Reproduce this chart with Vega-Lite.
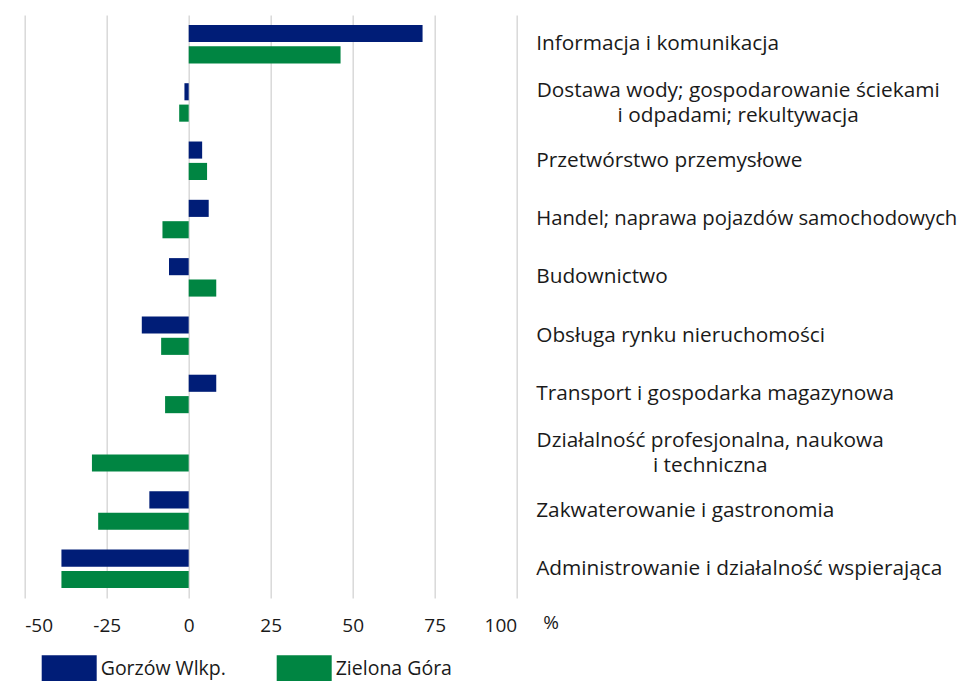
{
  "$schema": "https://vega.github.io/schema/vega-lite/v6.json",
  "autosize": {"type": "none"},
  "padding": {"left": 24.7, "top": 15, "right": 449.3, "bottom": 83},
  "width": 492,
  "height": 583,
  "config": {
    "view": {"stroke": null},
    "font": "Open Sans",
    "axis": {"labelColor": "#1a1a1a", "titleColor": "#1a1a1a"}
  },
  "data": {
    "values": [
      {"category": "Informacja i komunikacja", "city": "Gorzów Wlkp.", "value": 71.3},
      {"category": "Informacja i komunikacja", "city": "Zielona Góra", "value": 46.3},
      {"category": "Dostawa wody; gospodarowanie ściekami|i odpadami; rekultywacja", "city": "Gorzów Wlkp.", "value": -1.3},
      {"category": "Dostawa wody; gospodarowanie ściekami|i odpadami; rekultywacja", "city": "Zielona Góra", "value": -2.9},
      {"category": "Przetwórstwo przemysłowe", "city": "Gorzów Wlkp.", "value": 4.1},
      {"category": "Przetwórstwo przemysłowe", "city": "Zielona Góra", "value": 5.6},
      {"category": "Handel; naprawa pojazdów samochodowych", "city": "Gorzów Wlkp.", "value": 6.1},
      {"category": "Handel; naprawa pojazdów samochodowych", "city": "Zielona Góra", "value": -8.0},
      {"category": "Budownictwo", "city": "Gorzów Wlkp.", "value": -6.0},
      {"category": "Budownictwo", "city": "Zielona Góra", "value": 8.4},
      {"category": "Obsługa rynku nieruchomości", "city": "Gorzów Wlkp.", "value": -14.3},
      {"category": "Obsługa rynku nieruchomości", "city": "Zielona Góra", "value": -8.4},
      {"category": "Transport i gospodarka magazynowa", "city": "Gorzów Wlkp.", "value": 8.4},
      {"category": "Transport i gospodarka magazynowa", "city": "Zielona Góra", "value": -7.2},
      {"category": "Działalność profesjonalna, naukowa|i techniczna", "city": "Gorzów Wlkp.", "value": 0},
      {"category": "Działalność profesjonalna, naukowa|i techniczna", "city": "Zielona Góra", "value": -29.5},
      {"category": "Zakwaterowanie i gastronomia", "city": "Gorzów Wlkp.", "value": -12.0},
      {"category": "Zakwaterowanie i gastronomia", "city": "Zielona Góra", "value": -27.6},
      {"category": "Administrowanie i działalność wspierająca", "city": "Gorzów Wlkp.", "value": -38.8},
      {"category": "Administrowanie i działalność wspierająca", "city": "Zielona Góra", "value": -38.8}
    ]
  },
  "mark": {"type": "bar", "stroke": null},
  "encoding": {
    "y": {
      "field": "category",
      "type": "nominal",
      "sort": null,
      "scale": {"paddingInner": 0.34, "paddingOuter": 0.17},
      "axis": {
        "orient": "right",
        "title": null,
        "ticks": false,
        "domain": false,
        "grid": false,
        "labelAlign": {"condition": {"test": "indexof(datum.value, '|') >= 0", "value": "center"}, "value": "left"},
        "labelPadding": {"condition": [
          {"test": "indexof(datum.value, 'Dostawa') >= 0", "value": 221},
          {"test": "indexof(datum.value, 'naukowa') >= 0", "value": 193}
        ], "value": 19},
        "labelOffset": {"condition": {"test": "indexof(datum.value, '|') >= 0", "value": -11}, "value": 0},
        "labelFontSize": {"condition": {"test": "indexof(datum.value, 'Handel') >= 0", "value": 20.3}, "value": 20.8},
        "labelLineHeight": 25,
        "labelLimit": 0,
        "labelExpr": "split(datum.label, '|')"
      }
    },
    "yOffset": {
      "field": "city",
      "type": "nominal",
      "sort": ["Gorzów Wlkp.", "Zielona Góra"],
      "scale": {"paddingInner": 0.2, "paddingOuter": 0}
    },
    "x": {
      "field": "value",
      "type": "quantitative",
      "scale": {"domain": [-50, 100], "nice": false},
      "axis": {
        "values": [-50, -25, 0, 25, 50, 75, 100],
        "labelExpr": "replace(datum.label, '\u2212', '-')",
        "title": "%",
        "titleX": 526,
        "titleY": 24,
        "titleAlign": "center",
        "titleBaseline": "middle",
        "titleFontWeight": "normal",
        "titleFontSize": 19,
        "domain": false,
        "ticks": false,
        "grid": true,
        "gridColor": "#d9d9d9",
        "gridWidth": 1.5,
        "labelFontSize": 19,
        "labelPadding": 27,
        "labelBaseline": "middle"
      }
    },
    "color": {
      "field": "city",
      "type": "nominal",
      "scale": {"domain": ["Gorzów Wlkp.", "Zielona Góra"], "range": ["#001D77", "#008542"]},
      "legend": {
        "orient": "none",
        "direction": "horizontal",
        "legendX": 17,
        "legendY": 626,
        "title": null,
        "symbolType": "M-1,-0.5H1V0.5H-1Z",
        "symbolSize": 3025,
        "symbolStrokeWidth": 0,
        "symbolOpacity": 1,
        "labelFontSize": 19.5,
        "labelColor": "#1a1a1a",
        "labelOffset": 4,
        "columnPadding": 50,
        "padding": 0
      }
    }
  }
}
